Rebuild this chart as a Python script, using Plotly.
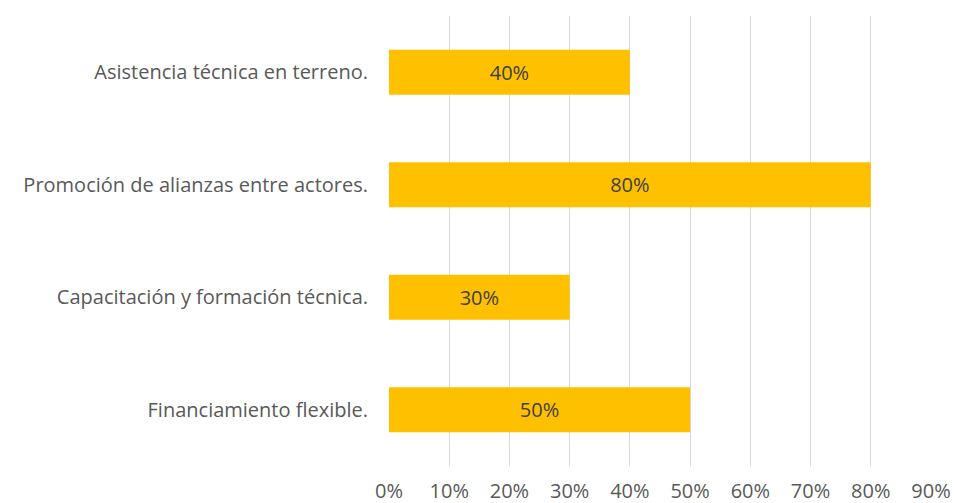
import plotly.graph_objects as go

categories = ["Asistencia técnica en terreno.", "Promoción de alianzas entre actores.",
              "Capacitación y formación técnica.", "Financiamiento flexible."]
values = [0.40, 0.80, 0.30, 0.50]
labels = ["40%", "80%", "30%", "50%"]
tick_vals = [0, 0.1, 0.2, 0.3, 0.4, 0.5, 0.6, 0.7, 0.8, 0.9]
tick_text = ["0%", "10%", "20%", "30%", "40%", "50%", "60%", "70%", "80%", "90%"]

FONT = "Open Sans, Noto Sans, sans-serif"
SIZE = 20
fig = go.Figure(go.Bar(
    y=categories, x=values, orientation="h",
    marker=dict(color="#FFC000", line=dict(width=0)),
    text=labels, textposition="inside", insidetextanchor="middle",
    textfont=dict(color="#404040", size=SIZE, family=FONT),
    width=0.4,
))
fig.update_layout(
    width=954, height=503,
    margin=dict(l=389, r=23, t=16, b=37, autoexpand=False),
    paper_bgcolor="white", plot_bgcolor="white",
    showlegend=False,
    font=dict(family=FONT, size=SIZE, color="#595959"),
    xaxis=dict(range=[0, 0.9], tickvals=tick_vals, ticktext=tick_text,
               showgrid=True, gridcolor="#D9D9D9", gridwidth=1.3,
               zeroline=False, showline=False, ticks="", ticklabelstandoff=11,
               automargin=False,
               tickfont=dict(size=SIZE, color="#595959")),
    yaxis=dict(categoryorder="array", categoryarray=categories[::-1],
               showgrid=False, zeroline=False, showline=False,
               ticks="", ticklabelstandoff=20, automargin=False,
               tickfont=dict(size=SIZE, color="#595959")),
    uniformtext=dict(minsize=10, mode="show"),
)
fig.write_html(
    "out.html",
    config={"displayModeBar": False},
    post_script="document.body.style.margin='0';document.body.style.overflow='hidden';",
)
